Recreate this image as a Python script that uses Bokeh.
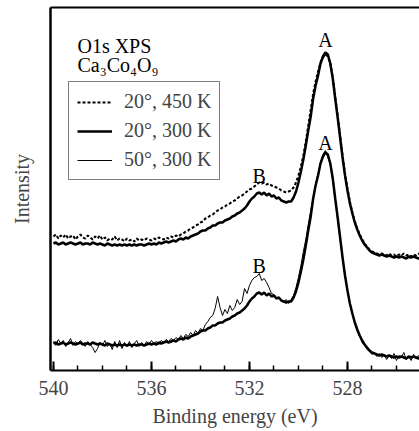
import numpy as np
from bokeh.plotting import figure
from bokeh.models import Range1d, FixedTicker, Label, Legend, LegendItem, ColumnDataSource, LinearAxis
from bokeh.embed import file_html
from bokeh.resources import INLINE

# ---- data (binding energy grid starts at 540.0 eV, step 0.1 eV, decreasing) ----
E_START = 540.0
E_STEP = 0.1

# 20 deg, 450 K  (O1s, arbitrary units)
s_20_450 = [
    7, 9, 5, 8, 6, 9, 5, 7, 8, 4,
    7, 9, 6, 5, 8, 6, 4, 7, 5, 8,
    4, 6, 3, 5, 4, 7, 3, 5, 4, 2,
    5, 3, 4, 2, 5, 3, 4, 3, 5, 4,
    3, 5, 4, 6, 5, 4, 6, 5, 7, 6,
    8, 7, 9, 10, 12, 13, 15, 16, 18, 19,
    21, 22, 25, 26, 28, 29, 31, 33, 34, 36,
    37, 39, 40, 42, 43, 45, 47, 48, 50, 52,
    54, 55, 57, 59, 61, 60, 61, 59, 60, 58,
    57, 56, 55, 53, 52, 51, 52, 53, 56, 61,
    68, 77, 88, 102, 118, 134, 150, 162, 172, 181,
    186, 189, 187, 180, 166, 147, 128, 108, 88, 70,
    55, 42, 31, 22, 15, 9, 4, 0, -3, -6,
    -8, -9, -10, -11, -10, -11, -12, -10, -12, -11,
    -13, -11, -12, -10, -12, -11, -13, -11, -12, -10,
    -12,
]

# 20 deg, 300 K
s_20_300 = [
    0, 1, -1, 0, 1, -1, 0, 1, 0, -1,
    0, 1, -1, 0, 0, -1, 1, 0, -1, 0,
    -1, -2, 0, -1, -2, -1, -2, -1, -2, -1,
    -2, -1, -2, -1, -2, -1, -1, -2, -1, 0,
    -1, 0, -1, 1, 0, 1, 2, 1, 2, 3,
    2, 4, 5, 4, 6, 5, 7, 8, 9, 10,
    12, 13, 13, 15, 16, 18, 18, 20, 21, 21,
    23, 24, 25, 27, 28, 30, 31, 33, 35, 38,
    42, 45, 47, 50, 51, 49, 51, 48, 50, 47,
    48, 45, 46, 43, 42, 41, 42, 42, 46, 52,
    61, 72, 84, 98, 113, 127, 145, 158, 168, 180,
    187, 191, 189, 180, 165, 145, 126, 106, 86, 68,
    53, 40, 30, 21, 14, 8, 3, -1, -4, -7,
    -9, -10, -11, -12, -11, -12, -13, -12, -13, -14,
    -13, -14, -13, -14, -15, -13, -14, -13, -14, -15,
    -14,
]

# 50 deg, 300 K
s_50_300 = [
    2, -2, 4, 0, 3, -3, 1, 5, -2, 2,
    -1, 3, 0, -3, 2, -1, -4, -9, -5, 1,
    -2, 3, -3, 0, -6, 2, -4, 3, -5, 1,
    -3, 2, -4, 0, 3, -3, 1, -2, 2, -1,
    3, 0, 2, -1, 3, 1, 4, 2, 5, 3,
    6, 4, 8, 5, 9, 7, 11, 8, 13, 10,
    15, 13, 19, 22, 26, 28, 35, 47, 36, 28,
    34, 30, 38, 33, 36, 44, 39, 42, 55, 50,
    58, 63, 66, 67, 70, 63, 65, 61, 56, 50,
    49, 46, 45, 43, 42, 44, 40, 44, 48, 56,
    66, 78, 92, 104, 119, 133, 146, 160, 170, 181,
    189, 193, 186, 179, 163, 143, 124, 104, 85, 67,
    52, 39, 29, 20, 12, 7, 1, -2, -6, -8,
    -11, -9, -13, -10, -14, -11, -16, -12, -15, -10,
    -17, -12, -14, -9, -16, -13, -17, -11, -15, -12,
    -16,
]

series_labels = ["20\u00b0, 450 K", "20\u00b0, 300 K", "50\u00b0, 300 K"]
major_ticks = [540, 536, 532, 528]
minor_ticks = list(range(525, 541))
tick_labels = {540: "540", 536: "536", 532: "532", 528: "528"}

# vertical stacking offsets of the two groups of spectra
upper_shift = 127
lower_shift = 27


def energies(vals):
    return np.round(E_START - E_STEP * np.arange(len(vals)), 1)


FONT = "'Liberation Serif'"

p = figure(width=419, height=431,
           x_range=Range1d(540.12, 525.06), y_range=Range1d(0, 363),
           output_backend="svg", toolbar_location=None,
           min_border_left=50, min_border_right=0, min_border_top=7, min_border_bottom=61)

p.background_fill_color = "white"
p.border_fill_color = "white"
p.outline_line_color = None
p.xgrid.visible = False
p.ygrid.visible = False

xa = p.below[0]
ya = p.left[0]

# top frame line (axis without ticks or labels)
top = LinearAxis(ticker=FixedTicker(ticks=[]), axis_line_width=2,
                 major_tick_line_color=None, minor_tick_line_color=None,
                 major_tick_in=0, major_tick_out=0, minor_tick_in=0, minor_tick_out=0,
                 major_label_standoff=0, major_label_text_font_size="0px")
p.add_layout(top, "above")

# x axis
xa.ticker = FixedTicker(ticks=major_ticks, minor_ticks=minor_ticks)
xa.major_label_overrides = tick_labels
xa.axis_line_width = 2
xa.major_tick_in = 9
xa.major_tick_out = 0
xa.minor_tick_in = 5
xa.minor_tick_out = 0
xa.major_tick_line_width = 2
xa.minor_tick_line_width = 1.5
xa.major_label_text_font = FONT
xa.major_label_text_font_size = "20px"
xa.major_label_standoff = 10
xa.axis_label = "Binding energy (eV)"
xa.axis_label_text_font = FONT
xa.axis_label_text_font_size = "20px"
xa.axis_label_text_font_style = "normal"
xa.axis_label_standoff = 7

# y axis (no ticks)
ya.ticker = FixedTicker(ticks=[])
ya.major_tick_line_color = None
ya.minor_tick_line_color = None
ya.major_tick_in = 0
ya.major_tick_out = 0
ya.minor_tick_in = 0
ya.minor_tick_out = 0
ya.major_label_standoff = 0
ya.major_label_text_font_size = "0px"
ya.axis_line_width = 2.5
ya.axis_label = "Intensity"
ya.axis_label_text_font = FONT
ya.axis_label_text_font_size = "20px"
ya.axis_label_text_font_style = "normal"
ya.axis_label_standoff = 18

# upper group: 20 deg 450 K (dashed) and 20 deg 300 K (thick)
src450 = ColumnDataSource(dict(x=energies(s_20_450), y=np.array(s_20_450) + upper_shift))
src300u = ColumnDataSource(dict(x=energies(s_20_300), y=np.array(s_20_300) + upper_shift))
# lower group: 20 deg 300 K (thick) and 50 deg 300 K (thin)
src300l = ColumnDataSource(dict(x=energies(s_20_300), y=np.array(s_20_300) + lower_shift))
src50 = ColumnDataSource(dict(x=energies(s_50_300), y=np.array(s_50_300) + lower_shift))

r450 = p.line("x", "y", source=src450, line_color="black", line_width=2, line_dash="3 2")
r300u = p.line("x", "y", source=src300u, line_color="black", line_width=2.5)
r50 = p.line("x", "y", source=src50, line_color="black", line_width=1)
r300l = p.line("x", "y", source=src300l, line_color="black", line_width=2.5)

# annotations
for txt, x, y, align in [("A", 528.9, 331, "center"), ("A", 528.9, 228, "center"),
                         ("B", 531.6, 195, "center"), ("B", 531.6, 105, "center"),
                         ("O1s XPS", 539.02, 325, "left"),
                         ("Ca\u2083Co\u2084O\u2089", 539.02, 306, "left")]:
    p.add_layout(Label(x=x, y=y, text=txt, text_font=FONT, text_font_size="20px",
                       text_align=align, text_baseline="alphabetic", text_color="black"))

legend = Legend(items=[LegendItem(label=series_labels[0], renderers=[r450]),
                       LegendItem(label=series_labels[1], renderers=[r300u]),
                       LegendItem(label=series_labels[2], renderers=[r50])],
                location=(18, 190), margin=0, padding=8, spacing=6,
                glyph_width=35, glyph_height=20, label_standoff=12,
                label_text_font=FONT, label_text_font_size="20px",
                border_line_color="black", border_line_width=1,
                background_fill_color="white", background_fill_alpha=1)
p.add_layout(legend)

open("out.html", "w").write(file_html(p, INLINE))
